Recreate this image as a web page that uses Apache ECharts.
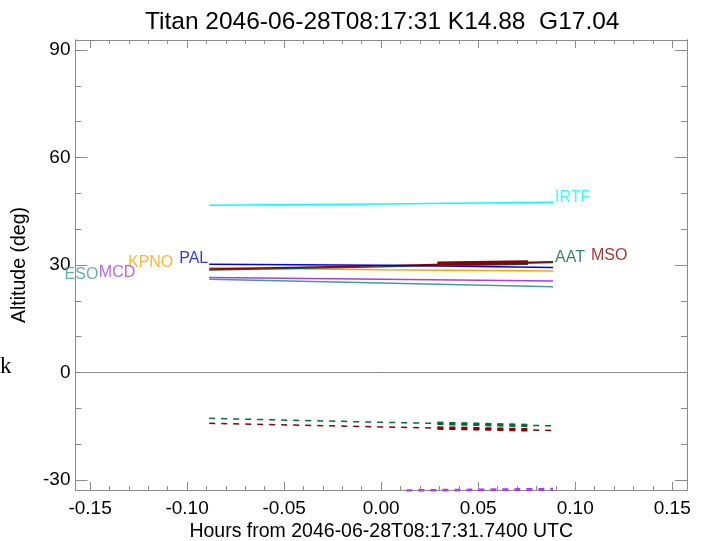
<!DOCTYPE html>
<html><head><meta charset="utf-8">
<script src="https://cdn.jsdelivr.net/npm/echarts@6/dist/echarts.min.js"></script>
<style>html,body{margin:0;padding:0;background:#fff}#c{width:707px;height:541px}</style>
</head><body><div id="c"></div>
<script>
// ---- data ----
const hours = [-0.0886, 0.0, 0.0886];
const altIRTF = [46.7, 47.0, 47.5];
const altPAL  = [30.2, 29.9, 29.3];
const altKPNO = [29.2, 28.7, 28.3];
const altMSO  = [28.9, 29.8, 30.9];
const altAAT  = [28.6, 29.5, 30.7];
const altMCD  = [26.5, 26.0, 25.5];
const altESO  = [26.0, 25.0, 23.9];
const hoursThick = [0.029, 0.0757];
const altMSOThick = [30.4, 30.8];
const altAATThick = [30.1, 30.5];
const sunAAT = [-12.8, -13.9, -14.9];
const sunMSO = [-14.2, -15.2, -16.2];
const sunAATThick = [-14.2, -14.8];
const sunMSOThick = [-15.5, -16.0];
const hoursMCDSun = [0.013, 0.0886];
const sunMCD = [-33.0, -32.6];
const siteNames = ['IRTF', 'AAT', 'MSO', 'PAL', 'KPNO', 'MCD', 'ESO'];
const labelX = [0.0896, 0.0896, 0.1081, -0.0891, -0.1071, -0.1267, -0.1457];
const labelY = [48.9, 32.2, 32.5, 31.9, 30.8, 28.0, 27.4];
const labelSide = ['right', 'right', 'right', 'left', 'left', 'left', 'left'];
const xMajor = [-0.15, -0.10, -0.05, 0.00, 0.05, 0.10, 0.15];
const xMinor = [-0.14, -0.13, -0.12, -0.11, -0.09, -0.08, -0.07, -0.06, -0.04, -0.03, -0.02, -0.01,
                0.01, 0.02, 0.03, 0.04, 0.06, 0.07, 0.08, 0.09, 0.11, 0.12, 0.13, 0.14];
const yMajor = [-30, 0, 30, 60, 90];
const yMinor = [-20, -10, 10, 20, 40, 50, 70, 80];
const xRange = [-0.1575, 0.1576];
const yRange = [-32.8, 92.8];

// ---- styles ----
const colors = {IRTF:'#00ffff', PAL:'#0000ff', KPNO:'#ffa500', MSO:'#8b0000', AAT:'#006b3c', MCD:'#a93cf0', ESO:'#3f9f98'};
const axisGray = '#8c8c8c';
const font = 'Liberation Sans, Arial, Helvetica, sans-serif';
const pairs = (xs, ys) => xs.map((x, i) => [x, ys[i]]);

function xAxisDef(pos, ticks, len, labels, extra) {
  return Object.assign({
    type: 'value', position: pos, min: xRange[0], max: xRange[1],
    axisLine: {show: true, onZero: false, lineStyle: {color: axisGray, width: 1}},
    axisTick: {show: true, inside: true, length: len, customValues: ticks, lineStyle: {color: axisGray}},
    axisLabel: labels ? {show: true, customValues: xMajor, formatter: v => v.toFixed(2),
      color: '#000', fontSize: 19, fontFamily: font, margin: 9} : {show: false},
    splitLine: {show: false}
  }, extra || {});
}
function yAxisDef(pos, ticks, len, labels, extra) {
  return Object.assign({
    type: 'value', position: pos, min: yRange[0], max: yRange[1],
    axisLine: {show: true, onZero: false, lineStyle: {color: axisGray, width: 1}},
    axisTick: {show: true, inside: true, length: len, customValues: ticks, lineStyle: {color: axisGray}},
    axisLabel: labels ? {show: true, customValues: yMajor, formatter: v => String(Math.round(v)),
      color: '#000', fontSize: 19, fontFamily: font, margin: 5} : {show: false},
    splitLine: {show: false}
  }, extra || {});
}

const series = [];
function line(name, xs, ys, color, width, dashed) {
  series.push({type: 'line', name, data: pairs(xs, ys), symbol: 'none', silent: true, clip: true,
    lineStyle: {color, width, type: dashed ? [6, 6] : 'solid'}, z: 3});
}
line('IRTF', hours, altIRTF, colors.IRTF, 1.5);
line('ESO', hours, altESO, colors.ESO, 1.5);
line('MCD', hours, altMCD, colors.MCD, 1.5);
line('KPNO', hours, altKPNO, colors.KPNO, 1.5);
line('AAT', hours, altAAT, colors.AAT, 1.5);
line('MSO', hours, altMSO, colors.MSO, 1.5);
line('PAL', hours, altPAL, colors.PAL, 1.5);
line('AATthick', hoursThick, altAATThick, colors.AAT, 3.5);
line('MSOthick', hoursThick, altMSOThick, colors.MSO, 4);
line('AATsun', hours, sunAAT, colors.AAT, 1.5, true);
line('MSOsun', hours, sunMSO, colors.MSO, 1.5, true);
line('AATsunThick', hoursThick, sunAATThick, colors.AAT, 3.5, true);
line('MSOsunThick', hoursThick, sunMSOThick, colors.MSO, 3.5, true);
line('MCDsun', hoursMCDSun, sunMCD, colors.MCD, 3, true);

// zero line
series.push({type: 'line', data: [], silent: true,
  markLine: {silent: true, symbol: 'none', label: {show: false},
    lineStyle: {color: axisGray, type: 'solid', width: 1}, data: [{yAxis: 0}]}});

// site labels
series.push({type: 'scatter', symbolSize: 0, silent: true, z: 5,
  data: siteNames.map((n, i) => ({
    value: [labelX[i], labelY[i]],
    label: {show: true, formatter: n, position: labelSide[i], distance: 0,
      color: colors[n], fontSize: 16, fontFamily: font}
  }))
});

const chart = echarts.init(document.getElementById('c'), null, {renderer: 'canvas'});
chart.setOption({
  animation: false,
  backgroundColor: '#fff',
  title: {text: 'Titan 2046-06-28T08:17:31 K14.88  G17.04', left: 140, top: 5,
    textStyle: {fontSize: 24.5, fontWeight: 'normal', color: '#000', fontFamily: font}},
  grid: {left: 75.5, right: 20, top: 40, bottom: 51, containLabel: false, outerBoundsMode: 'none'},
  xAxis: [
    xAxisDef('bottom', xMajor, 8, true, {name: 'Hours from 2046-06-28T08:17:31.7400 UTC',
      nameLocation: 'middle', nameGap: 32, nameMoveOverlap: false,
      nameTextStyle: {fontSize: 19.5, fontFamily: font, color: '#000'}}),
    xAxisDef('bottom', xMinor, 4, false),
    xAxisDef('top', xMajor, 8, false),
    xAxisDef('top', xMinor, 4, false)
  ],
  yAxis: [
    yAxisDef('left', yMajor, 12, true, {name: 'Altitude (deg)', nameLocation: 'middle', nameGap: 46,
      nameRotate: 90, nameMoveOverlap: false, nameTextStyle: {fontSize: 19.5, fontFamily: font, color: '#000'}}),
    yAxisDef('left', yMinor, 6, false),
    yAxisDef('right', yMajor, 12, false),
    yAxisDef('right', yMinor, 6, false)
  ],
  graphic: [
    {type: 'text', left: 0, top: 355,
      style: {text: 'k', fontSize: 23, fontFamily: 'Liberation Serif, DejaVu Serif, serif', fill: '#000'}}
  ],
  series
});
</script></body></html>
